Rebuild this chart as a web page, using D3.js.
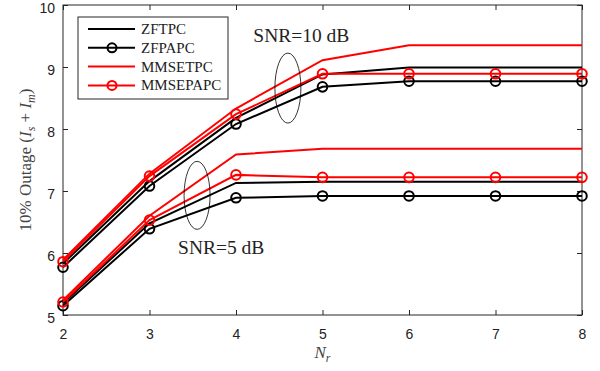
<!DOCTYPE html>
<html>
<head>
<meta charset="utf-8">
<script src="https://cdn.jsdelivr.net/npm/d3@7"></script>
<style>
  body { margin: 0; background: #fff; }
  svg { display: block; }
  .tick text { font-family: "Liberation Sans", Arial, sans-serif; font-size: 14px; fill: #222; }
  .serif { font-family: "Liberation Serif", "Times New Roman", serif; }
</style>
</head>
<body>
<svg width="600" height="371"></svg>
<script>
const nr = [2, 3, 4, 5, 6, 7, 8];
const yTicks = [5, 6, 7, 8, 9, 10];

// SNR = 10 dB
const zftpc10    = [5.83, 7.16, 8.18, 8.88, 8.99, 8.99, 8.99];
const zfpapc10   = [5.77, 7.08, 8.08, 8.68, 8.77, 8.77, 8.77];
const mmsetpc10  = [5.89, 7.28, 8.33, 9.11, 9.35, 9.35, 9.35];
const mmsepapc10 = [5.86, 7.24, 8.24, 8.89, 8.89, 8.89, 8.89];

// SNR = 5 dB
const zftpc5    = [5.19, 6.48, 7.13, 7.15, 7.15, 7.15, 7.15];
const zfpapc5   = [5.15, 6.39, 6.89, 6.92, 6.92, 6.92, 6.92];
const mmsetpc5  = [5.24, 6.6, 7.59, 7.68, 7.68, 7.68, 7.68];
const mmsepapc5 = [5.21, 6.53, 7.26, 7.22, 7.22, 7.22, 7.22];

const series = [
  { name: "ZFTPC", color: "#000", marker: false, data: [zftpc10, zftpc5] },
  { name: "ZFPAPC", color: "#000", marker: true, data: [zfpapc10, zfpapc5] },
  { name: "MMSETPC", color: "#f00", marker: false, data: [mmsetpc10, mmsetpc5] },
  { name: "MMSEPAPC", color: "#f00", marker: true, data: [mmsepapc10, mmsepapc5] }
];

const margin = { top: 5, right: 18, bottom: 56, left: 63 },
      width = 600 - margin.left - margin.right,
      height = 371 - margin.top - margin.bottom;

const root = d3.select("svg");
const svg = root.append("g")
  .attr("transform", `translate(${margin.left},${margin.top})`);

const x = d3.scaleLinear().domain([2, 8]).range([0, width]);
const y = d3.scaleLinear().domain([5, 10]).range([height, 0]);

// Box
svg.append("rect")
  .attr("width", width).attr("height", height)
  .attr("fill", "none").attr("stroke", "#262626").attr("stroke-width", 1);

// Axes (ticks inside, on all four sides)
const styleAxis = g => {
  g.select(".domain").remove();
  g.selectAll(".tick line").attr("stroke", "#262626");
};
svg.append("g")
  .attr("transform", `translate(0,${height})`)
  .call(d3.axisBottom(x).tickValues(nr).tickSize(-5).tickPadding(14).tickFormat(d3.format("d")))
  .call(styleAxis);
svg.append("g")
  .call(d3.axisTop(x).tickValues(nr).tickSize(-5).tickFormat(""))
  .call(styleAxis);
svg.append("g")
  .call(d3.axisLeft(y).tickValues(yTicks).tickSize(-5).tickPadding(8).tickFormat(d3.format("d")))
  .call(styleAxis)
  .call(g => g.selectAll(".tick text").attr("dy", "0.5em"));
svg.append("g")
  .attr("transform", `translate(${width},0)`)
  .call(d3.axisRight(y).tickValues(yTicks).tickSize(-5).tickFormat(""))
  .call(styleAxis);

// Lines
const line = d3.line().x((d, i) => x(nr[i])).y(d => y(d));
series.forEach(s => {
  s.data.forEach(vals => {
    svg.append("path")
      .datum(vals)
      .attr("d", line)
      .attr("fill", "none")
      .attr("stroke", s.color)
      .attr("stroke-width", 2);
    if (s.marker) {
      svg.selectAll(null)
        .data(vals)
        .enter()
        .append("circle")
        .attr("cx", (d, i) => x(nr[i]))
        .attr("cy", d => y(d))
        .attr("r", 4.8)
        .attr("fill", "none")
        .attr("stroke", s.color)
        .attr("stroke-width", 2);
    }
  });
});

// Ellipses and annotations
svg.append("ellipse")
  .attr("cx", x(4.6)).attr("cy", y(8.66))
  .attr("rx", 13).attr("ry", 35)
  .attr("fill", "none").attr("stroke", "#000").attr("stroke-width", 0.8);
svg.append("ellipse")
  .attr("cx", x(3.55)).attr("cy", y(6.93))
  .attr("rx", 13).attr("ry", 34)
  .attr("fill", "none").attr("stroke", "#000").attr("stroke-width", 0.8);

svg.append("text")
  .attr("class", "serif")
  .attr("x", x(4.2)).attr("y", y(9.4))
  .style("font-size", "19.5px")
  .style("fill", "#222")
  .text("SNR=10 dB");
svg.append("text")
  .attr("class", "serif")
  .attr("x", x(3.33)).attr("y", y(5.98))
  .style("font-size", "19.5px")
  .style("fill", "#222")
  .text("SNR=5 dB");

// Legend
const legend = svg.append("g").attr("transform", "translate(15,12)");
legend.append("rect")
  .attr("width", 150).attr("height", 82)
  .attr("fill", "#fff").attr("stroke", "#262626").attr("stroke-width", 1);
series.forEach((s, i) => {
  const ly = 12 + i * 18.8;
  legend.append("line")
    .attr("x1", 10).attr("x2", 57).attr("y1", ly).attr("y2", ly)
    .attr("stroke", s.color).attr("stroke-width", 2);
  if (s.marker) {
    legend.append("circle")
      .attr("cx", 34).attr("cy", ly).attr("r", 4.5)
      .attr("fill", "none").attr("stroke", s.color).attr("stroke-width", 2);
  }
  legend.append("text")
    .attr("class", "serif")
    .attr("x", 63).attr("y", ly + 5)
    .style("font-size", "15px")
    .style("fill", "#222")
    .text(s.name);
});

// Axis labels
const xl = root.append("text")
  .attr("class", "serif")
  .attr("x", margin.left + width / 2)
  .attr("y", 358)
  .attr("text-anchor", "middle")
  .style("font-size", "17px")
  .style("fill", "#444");
xl.append("tspan").style("font-style", "italic").text("N");
xl.append("tspan").style("font-style", "italic").style("font-size", "12px").attr("dy", 4).text("r");

const yl = root.append("text")
  .attr("class", "serif")
  .attr("transform", `translate(31,${margin.top + height / 2}) rotate(-90)`)
  .attr("text-anchor", "middle")
  .style("font-size", "17px")
  .style("fill", "#444");
yl.append("tspan").text("10% Outage (");
yl.append("tspan").style("font-style", "italic").text("I");
yl.append("tspan").style("font-style", "italic").style("font-size", "12px").attr("dy", 4).text("s");
yl.append("tspan").attr("dy", -4).text(" + ");
yl.append("tspan").style("font-style", "italic").text("I");
yl.append("tspan").style("font-style", "italic").style("font-size", "12px").attr("dy", 4).text("m");
yl.append("tspan").attr("dy", -4).text(")");
</script>
</body>
</html>
